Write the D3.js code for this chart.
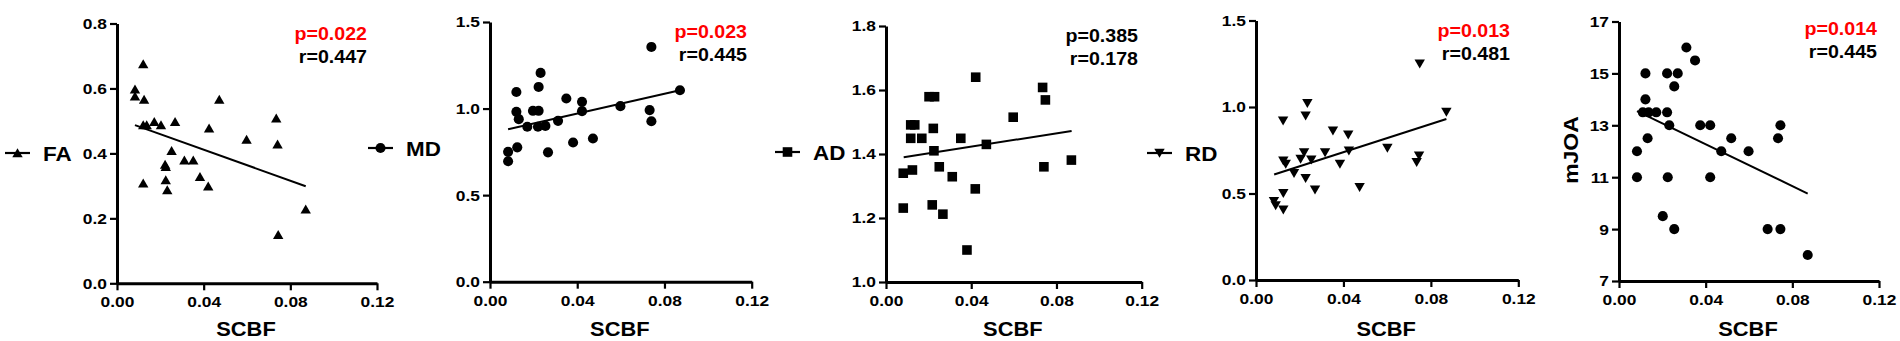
<!DOCTYPE html>
<meta charset="utf-8">
<style>
  body { margin: 0; background: #fff; }
  text { font-family: "Liberation Sans", Arial, sans-serif; font-weight: bold; }
</style>
<body>
<script src="https://d3js.org/d3.v7.min.js"></script>
<script>
  // x axis (SCBF) ticks, shared by all five panels
  var xTicks = [0, 0.04, 0.08, 0.12];

  // FA
  var faX = [0.0121, 0.0083, 0.0083, 0.0125, 0.0472, 0.0121, 0.0137, 0.0172, 0.0203, 0.0268, 0.0425, 0.0735, 0.0598,
             0.0741, 0.0252, 0.0222, 0.0225, 0.0311, 0.0352, 0.0383, 0.0121, 0.0225, 0.0421, 0.0232, 0.0871, 0.0744];
  var faY = [0.675, 0.597, 0.576, 0.566, 0.566, 0.487, 0.487, 0.497, 0.487, 0.497, 0.477, 0.508, 0.443,
             0.428, 0.408, 0.366, 0.359, 0.379, 0.379, 0.328, 0.308, 0.318, 0.299, 0.287, 0.228, 0.149];
  var faFit = [0.487, 0.299];
  var faTicks = [0, 0.2, 0.4, 0.6, 0.8];

  // MD
  var mdX = [0.0740, 0.0232, 0.0223, 0.0121, 0.0871, 0.0350, 0.0422, 0.0121, 0.0197, 0.0223, 0.0422, 0.0598, 0.0732,
             0.0740, 0.0132, 0.0312, 0.0171, 0.0220, 0.0254, 0.0381, 0.0472, 0.0125, 0.0083, 0.0266, 0.0083];
  var mdY = [1.356, 1.206, 1.125, 1.096, 1.106, 1.058, 1.039, 0.981, 0.987, 0.987, 0.985, 1.014, 0.991,
             0.927, 0.939, 0.929, 0.895, 0.895, 0.900, 0.804, 0.827, 0.776, 0.750, 0.747, 0.696];
  var mdFit = [0.881, 1.106];
  var mdTicks = [0, 0.5, 1.0, 1.5];

  // AD
  var adX = [0.0421, 0.0202, 0.0228, 0.0735, 0.0748, 0.0597, 0.0116, 0.0135, 0.0222, 0.0116, 0.0168, 0.0351, 0.0471,
             0.0225, 0.0870, 0.0741, 0.0250, 0.0124, 0.0081, 0.0311, 0.0419, 0.0081, 0.0217, 0.0267, 0.0380];
  var adY = [1.640, 1.579, 1.579, 1.608, 1.569, 1.515, 1.491, 1.491, 1.480, 1.449, 1.449, 1.449, 1.430,
             1.410, 1.381, 1.360, 1.360, 1.350, 1.340, 1.329, 1.291, 1.231, 1.241, 1.212, 1.100];
  var adFit = [1.390, 1.472];
  var adTicks = [1.0, 1.2, 1.4, 1.6, 1.8];

  // RD
  var rdX = [0.0749, 0.0235, 0.0227, 0.0124, 0.0871, 0.0352, 0.0422, 0.0601, 0.0220, 0.0316, 0.0425, 0.0746, 0.0735,
             0.0125, 0.0136, 0.0204, 0.0253, 0.0384, 0.0174, 0.0227, 0.0270, 0.0474, 0.0125, 0.0082, 0.0090, 0.0125];
  var rdY = [1.250, 1.022, 0.949, 0.921, 0.972, 0.863, 0.840, 0.763, 0.738, 0.738, 0.748, 0.719, 0.681,
             0.690, 0.671, 0.700, 0.696, 0.671, 0.617, 0.589, 0.522, 0.537, 0.502, 0.456, 0.431, 0.407];
  var rdFit = [0.610, 0.931];
  var rdTicks = [0, 0.5, 1.0, 1.5];

  // mJOA
  var mjX = [0.0311, 0.0351, 0.0122, 0.0222, 0.0271, 0.0255, 0.0122, 0.0110, 0.0137, 0.0172, 0.0222, 0.0232, 0.0375,
             0.0421, 0.0745, 0.0132, 0.0518, 0.0734, 0.0083, 0.0472, 0.0598, 0.0083, 0.0225, 0.0421, 0.0202, 0.0255,
             0.0686, 0.0745, 0.0871];
  var mjY = [16, 15.5, 15, 15, 15, 14.5, 14, 13.5, 13.5, 13.5, 13.5, 13, 13,
             13, 13, 12.5, 12.5, 12.5, 12, 12, 12, 11, 11, 11, 9.5, 9,
             9, 9, 8];
  var mjFit = [13.55, 10.37];
  var mjTicks = [7, 9, 11, 13, 15, 17];

  var fitX = [0.0083, 0.0871];
  var pValues = ["p=0.022", "p=0.023", "p=0.385", "p=0.013", "p=0.014"];
  var rValues = ["r=0.447", "r=0.445", "r=0.178", "r=0.481", "r=0.445"];
  var names = ["FA", "MD", "AD", "RD", "mJOA"];

  var svg = d3.select("body").append("svg")
      .attr("width", 1900)
      .attr("height", 341);

  var STRETCH = 1.12;
  function stretch(sel) {
    sel.each(function() {
      var w = this.getComputedTextLength();
      d3.select(this).attr("textLength", w * STRETCH).attr("lengthAdjust", "spacingAndGlyphs");
    });
  }

  var shapes = {
    triangle: "M0,-4.8L5.2,4.2L-5.2,4.2Z",
    circle: d3.symbol().type(d3.symbolCircle).size(80)(),
    square: "M-4.8,-4.8H4.8V4.8H-4.8Z",
    down: "M0,4.8L5.2,-4.2L-5.2,-4.2Z"
  };

  var panels = [
    {xs: faX, ys: faY, fit: faFit, ticks: faTicks, fmt: ".1f", shape: "triangle", pRed: true,
     x0: 117, x1: 377, yT: 23.5, yB: 283.3, tx: 367, ty: 40, leg: {x: 5, y: 153}},
    {xs: mdX, ys: mdY, fit: mdFit, ticks: mdTicks, fmt: ".1f", shape: "circle", pRed: true,
     x0: 490, x1: 751.7, yT: 22, yB: 281.7, tx: 747, ty: 38, leg: {x: 368, y: 148}},
    {xs: adX, ys: adY, fit: adFit, ticks: adTicks, fmt: ".1f", shape: "square", pRed: false,
     x0: 886, x1: 1141.7, yT: 26, yB: 282, tx: 1138, ty: 42, leg: {x: 775, y: 152}},
    {xs: rdX, ys: rdY, fit: rdFit, ticks: rdTicks, fmt: ".1f", shape: "down", pRed: true,
     x0: 1256, x1: 1518.3, yT: 20.5, yB: 280, tx: 1510, ty: 37, leg: {x: 1147, y: 153}},
    {xs: mjX, ys: mjY, fit: mjFit, ticks: mjTicks, fmt: "d", shape: "circle", pRed: true,
     x0: 1619, x1: 1879, yT: 21.5, yB: 281, tx: 1877, ty: 35, ylab: {x: 1578, y: 150}}
  ];

  panels.forEach(function(p, i) {
    var x = d3.scaleLinear().domain([0, 0.12]).range([p.x0, p.x1]);
    var y = d3.scaleLinear().domain(d3.extent(p.ticks)).range([p.yB, p.yT]);
    var g = svg.append("g");

    var xAxis = g.append("g")
        .attr("transform", "translate(0," + p.yB + ")")
        .call(d3.axisBottom(x).tickValues(xTicks).tickFormat(d3.format(".2f"))
            .tickSize(7).tickSizeOuter(0).tickPadding(6));
    var yAxis = g.append("g")
        .attr("transform", "translate(" + p.x0 + ",0)")
        .call(d3.axisLeft(y).tickValues(p.ticks).tickFormat(d3.format(p.fmt))
            .tickSize(7).tickSizeOuter(0).tickPadding(3));

    [xAxis, yAxis].forEach(function(a) {
      a.select(".domain").attr("stroke", "#000").attr("stroke-width", 3);
      a.selectAll(".tick line").attr("stroke", "#000").attr("stroke-width", 2.2);
      a.selectAll(".tick text")
          .attr("fill", "#000")
          .style("font-size", "15.5px")
          .style("font-family", "'Liberation Sans', Arial, sans-serif")
          .style("font-weight", "bold")
          .call(stretch);
    });

    // regression line
    g.append("line")
        .attr("x1", x(fitX[0])).attr("y1", y(p.fit[0]))
        .attr("x2", x(fitX[1])).attr("y2", y(p.fit[1]))
        .attr("stroke", "#000").attr("stroke-width", 2);

    // points
    g.selectAll("path.pt")
        .data(p.xs.map(function(v, k) { return [v, p.ys[k]]; }))
        .enter().append("path")
        .attr("class", "pt")
        .attr("d", shapes[p.shape])
        .attr("transform", function(d) { return "translate(" + x(d[0]) + "," + y(d[1]) + ")"; })
        .attr("fill", "#000");

    // stats text
    g.append("text")
        .attr("x", p.tx).attr("y", p.ty)
        .attr("text-anchor", "end")
        .style("font-size", "17.5px")
        .attr("fill", p.pRed ? "#ff0000" : "#000")
        .text(pValues[i])
        .call(stretch);
    g.append("text")
        .attr("x", p.tx).attr("y", p.ty + 23)
        .attr("text-anchor", "end")
        .style("font-size", "17.5px")
        .attr("fill", "#000")
        .text(rValues[i])
        .call(stretch);

    // x axis title
    g.append("text")
        .attr("x", (p.x0 + p.x1) / 2 - 1)
        .attr("y", 336)
        .attr("text-anchor", "middle")
        .style("font-size", "19.5px")
        .text("SCBF")
        .call(stretch);

    if (p.leg) {
      var lg = g.append("g").attr("transform", "translate(" + p.leg.x + "," + p.leg.y + ")");
      lg.append("line").attr("x1", 0).attr("x2", 25).attr("y1", 0).attr("y2", 0)
          .attr("stroke", "#000").attr("stroke-width", 2.2);
      lg.append("path").attr("d", shapes[p.shape])
          .attr("transform", "translate(12.5,0)").attr("fill", "#000");
      lg.append("text")
          .attr("x", 38).attr("y", 7.5)
          .style("font-size", "20px")
          .text(names[i])
          .call(stretch);
    }
    if (p.ylab) {
      g.append("text")
          .attr("transform", "translate(" + p.ylab.x + "," + p.ylab.y + ") rotate(-90)")
          .attr("text-anchor", "middle")
          .style("font-size", "20.5px")
          .text(names[i])
          .call(stretch);
    }
  });
</script>
</body>
</html>
